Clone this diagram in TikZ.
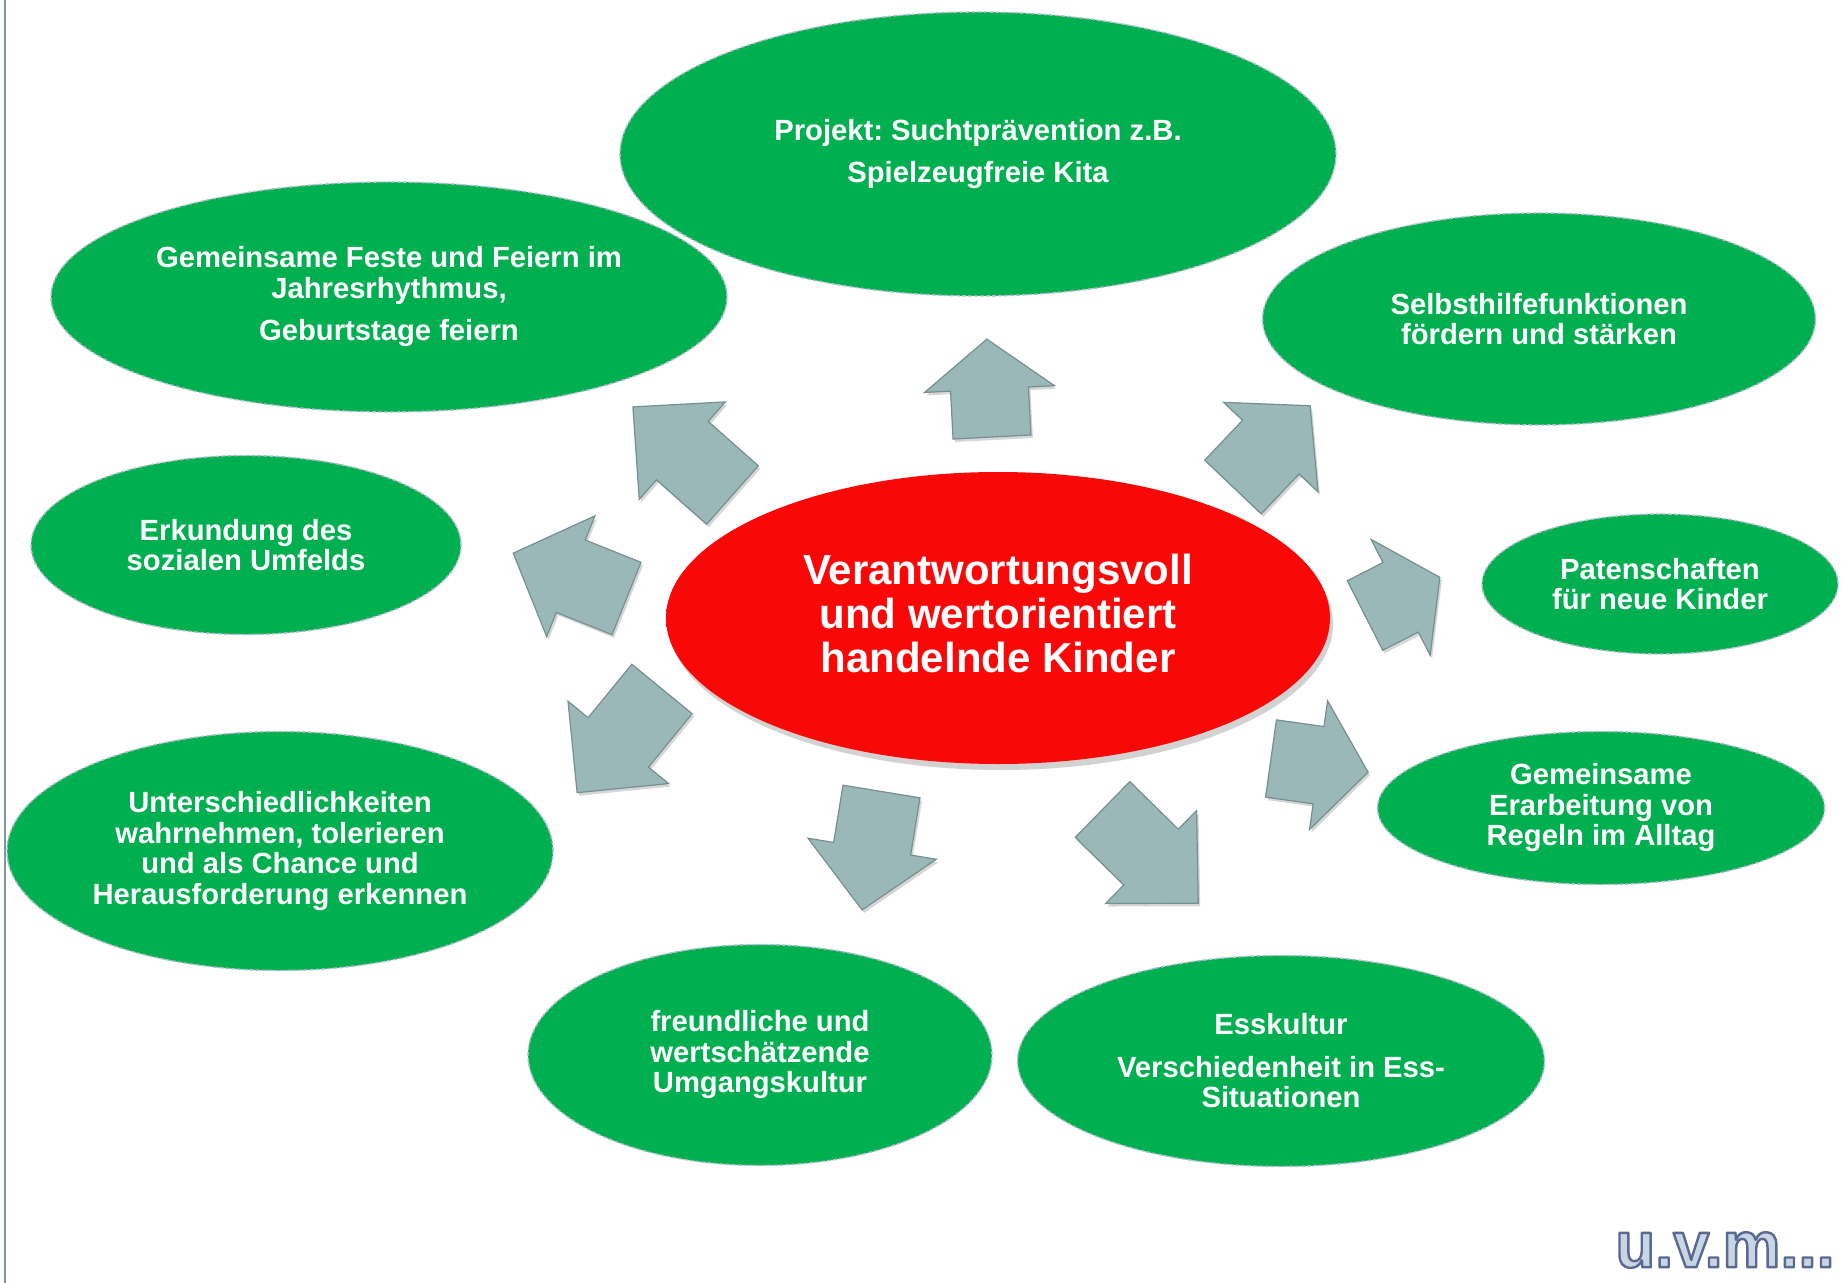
\documentclass[tikz,border=0pt]{standalone}
\usepackage{fontspec}
\setmainfont{Liberation Sans}
\usetikzlibrary{shapes.geometric,shadows}
\frenchspacing
\definecolor{kgreen}{RGB}{0,176,80}
\definecolor{kred}{RGB}{250,8,8}
\definecolor{kreddark}{RGB}{200,0,0}
\definecolor{arrfill}{RGB}{155,184,185}
\definecolor{arrdraw}{RGB}{118,143,146}
\definecolor{ellborder}{RGB}{178,188,202}
\definecolor{lineblue}{RGB}{127,149,159}
\definecolor{logofill}{RGB}{200,213,226}
\pgfdeclareradialshading{redbevel}{\pgfpoint{0bp}{0bp}}{color(0bp)=(kred); color(36bp)=(kred); color(50bp)=(kreddark)}
\tikzset{
  greenell/.style={ellipse, fill=kgreen, draw=ellborder, line width=0.7pt,
    dash pattern=on 2pt off 1pt, text=white,
    font=\bfseries\fontsize{14.6}{15.25}\selectfont, align=center, inner sep=0pt},
  redell/.style={ellipse, shade, shading=redbevel, text=white,
    font=\bfseries\fontsize{21}{22}\selectfont, align=center, inner sep=0pt,
    drop shadow={opacity=0.35, shadow xshift=1.5pt, shadow yshift=-3pt}},
  grayarrow/.style={fill=arrfill, draw=arrdraw, line width=0.6pt, line join=miter},
  arrshadow/.style={fill=black, opacity=0.16},
  leftline/.style={draw=lineblue, line width=1pt},
  logotext/.style={font=\bfseries\fontsize{32.5}{34}\selectfont, inner sep=0pt, text=logofill}
}
% outlined text: fill in current colour, stroke in slate blue
\newcommand\outlined[1]{\special{pdf:literal direct 2 Tr 1.2 w 1 j 0.353 0.412 0.569 RG}#1\special{pdf:literal direct 0 Tr}}
% tail x, tail y, angle, length, head length
\newcommand\grayblock[5]{%
  \fill[arrshadow, shift={({#1+2},{#2+3})}, rotate=#3]
    (0,39) -- ({#4-#5},39) -- ({#4-#5},65) -- (#4,0) -- ({#4-#5},-65) -- ({#4-#5},-39) -- (0,-39) -- cycle;
  \draw[grayarrow, shift={(#1,#2)}, rotate=#3]
    (0,39) -- ({#4-#5},39) -- ({#4-#5},65) -- (#4,0) -- ({#4-#5},-65) -- ({#4-#5},-39) -- (0,-39) -- cycle;
}
\begin{document}
\begin{tikzpicture}[x=0.5pt, y=-0.5pt]
\useasboundingbox (0,0) rectangle (1845,1283);
\fill[white] (0,0) rectangle (1845,1283);
\draw[leftline] (5,0) -- (5,1283);

% arrows
\grayblock{992}{437}{93}{98}{50}
\grayblock{1233}{487}{46.5}{112}{57}
\grayblock{1365}{615.5}{27}{84}{44}
\grayblock{1271}{758.5}{-8}{98}{50}
\grayblock{1102.5}{809.5}{-44.4}{134}{66}
\grayblock{881.5}{791.5}{-99.3}{120}{62}
\grayblock{662}{689}{230.7}{134}{65}
\grayblock{626.5}{598.5}{158.2}{122}{62}
\grayblock{732.5}{495}{138.5}{133}{66}

% center
\node[redell, minimum width=332pt, minimum height=146pt] (center) at (998,618)
  {Verantwortungsvoll\\ und wertorientiert\\ handelnde Kinder\\[-17pt]\mbox{}};

% green ellipses
\node[greenell, minimum width=358pt, minimum height=142pt] (projekt) at (978,154)
  {Projekt: Suchtprävention z.B.\\[6pt] Spielzeugfreie Kita};
\node[greenell, minimum width=338pt, minimum height=115pt] (feste) at (389,297)
  {Gemeinsame Feste und Feiern im\\ Jahresrhythmus,\\[6pt] Geburtstage feiern};
\node[greenell, minimum width=276.5pt, minimum height=106pt] (selbst) at (1539,319)
  {Selbsthilfefunktionen\\ fördern und stärken};
\node[greenell, minimum width=215pt, minimum height=89.5pt] (erkund) at (246,545)
  {Erkundung des\\ sozialen Umfelds};
\node[greenell, minimum width=178pt, minimum height=70pt] (paten) at (1660,584)
  {Patenschaften\\ für neue Kinder};
\node[greenell, minimum width=273pt, minimum height=119.5pt] (unter) at (280,851)
  {Unterschiedlichkeiten\\ wahrnehmen, tolerieren\\ und als Chance und\\ Herausforderung erkennen};
\node[greenell, minimum width=223.5pt, minimum height=76.5pt] (regeln) at (1601,808)
  {Gemeinsame\\ Erarbeitung von\\ Regeln im Alltag};
\node[greenell, minimum width=232pt, minimum height=110.5pt] (umgang) at (760,1055)
  {freundliche und\\ wertschätzende\\ Umgangskultur};
\node[greenell, minimum width=263.5pt, minimum height=105.5pt] (ess) at (1281,1061)
  {Esskultur\\[6pt] Verschiedenheit in Ess-\\ Situationen};

% logo
\node[logotext] (uvm) at (1725,1250) {\outlined{u.v.m...}};
\end{tikzpicture}
\end{document}
